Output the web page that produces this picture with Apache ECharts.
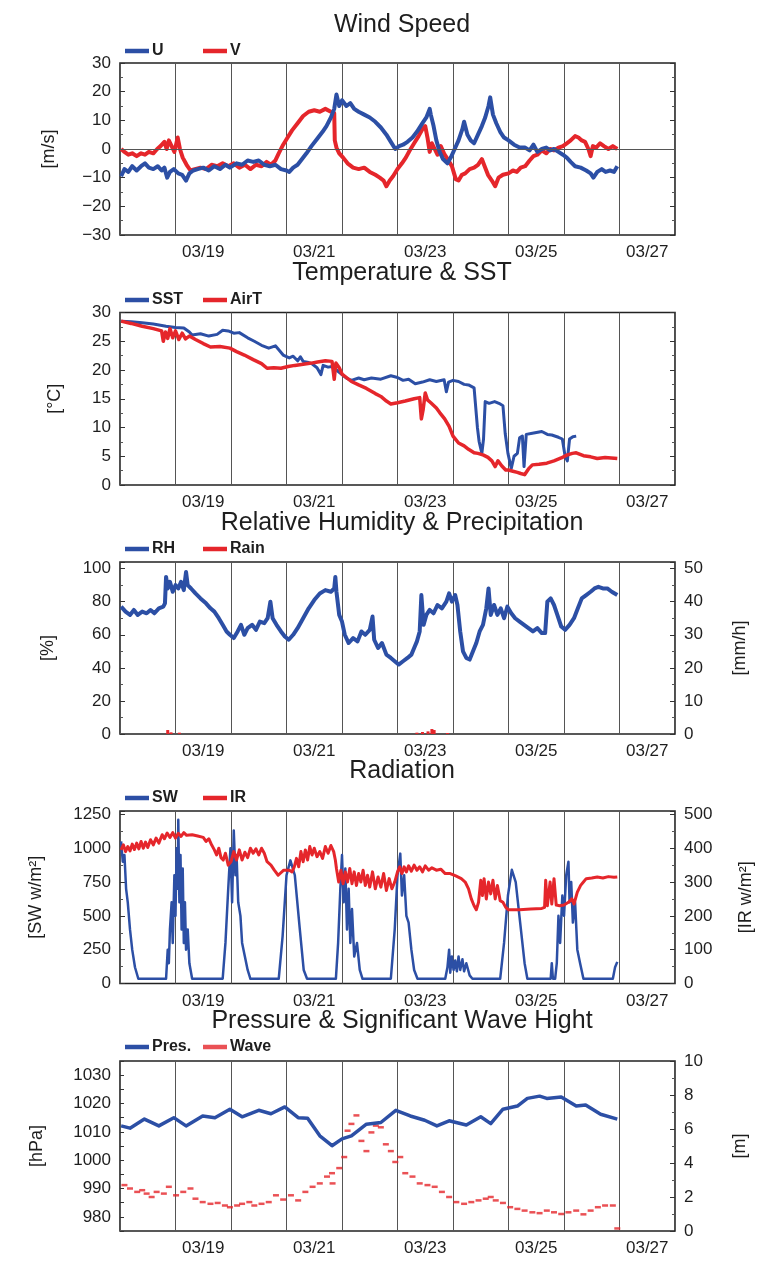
<!DOCTYPE html>
<html>
<head>
<meta charset="utf-8">
<script src="https://cdn.jsdelivr.net/npm/echarts@6/dist/echarts.min.js"></script>
<style>
  html, body { margin: 0; padding: 0; background: #fff; }
  #chart { width: 766px; height: 1261px; }
</style>
</head>
<body>
<div id="chart"></div>
<script>
// Time is expressed as day of March (UTC), e.g. 18.5 = 03/18 12:00.

// ---- Wind speed components [m/s]
const windU = [[18.02,-9.5],[18.08,-7],[18.15,-8],[18.22,-6],[18.3,-7.5],[18.38,-6],[18.45,-5],[18.52,-6.5],[18.6,-7],[18.68,-6],[18.75,-7.5],[18.8,-6.5],[18.85,-10],[18.9,-8],[18.97,-7],[19.05,-8.5],[19.12,-9],[19.19,-11],[19.25,-8.5],[19.32,-7.5],[19.4,-7],[19.5,-6.5],[19.6,-7.5],[19.7,-6],[19.8,-7],[19.9,-5.5],[19.98,-6.5],[20.1,-5],[20.2,-5.5],[20.3,-4],[20.4,-4.5],[20.5,-4],[20.6,-5.5],[20.7,-6],[20.8,-5.5],[20.9,-7],[21.0,-7.5],[21.05,-8],[21.12,-6.5],[21.2,-5.5],[21.28,-3.5],[21.36,-1.5],[21.45,1],[21.55,3.5],[21.65,6],[21.72,8],[21.8,11],[21.86,14],[21.9,19],[21.95,15],[22.0,17],[22.08,15],[22.15,16],[22.22,14],[22.3,13],[22.4,12],[22.5,11],[22.6,9.5],[22.7,7.5],[22.8,5],[22.88,2.5],[22.96,0],[23.03,1],[23.1,1.5],[23.18,2.5],[23.27,4],[23.35,6],[23.45,9],[23.52,11],[23.58,14],[23.6,12],[23.65,8],[23.7,3],[23.76,-1],[23.82,-3.5],[23.9,-5],[23.96,-3],[24.03,0],[24.1,3],[24.17,7],[24.2,9.5],[24.26,5],[24.32,3],[24.38,2],[24.45,5],[24.52,8],[24.58,11],[24.64,15],[24.67,18],[24.72,12],[24.78,9],[24.85,6],[24.92,4],[25.0,3],[25.1,1.5],[25.2,0.5],[25.3,0.5],[25.38,-0.5],[25.45,1.5],[25.52,-1],[25.6,0],[25.68,0.5],[25.75,-0.5],[25.82,0],[25.9,-1],[25.98,-2],[26.05,-3],[26.12,-4.5],[26.2,-6],[26.3,-6.5],[26.4,-7.5],[26.48,-8.5],[26.53,-10],[26.6,-8],[26.68,-7],[26.75,-8],[26.83,-7.5],[26.9,-8],[26.96,-6]];
const windV = [[18.02,0],[18.08,-1],[18.15,-2],[18.22,-1.5],[18.3,-2.5],[18.38,-1.5],[18.45,-2],[18.52,-1],[18.6,-1.5],[18.67,0],[18.73,1],[18.8,2.5],[18.84,0],[18.88,3],[18.93,1],[18.98,-1],[19.04,4],[19.08,0],[19.13,-3],[19.2,-5.5],[19.27,-7.5],[19.35,-7],[19.45,-6.5],[19.55,-7],[19.65,-5.5],[19.75,-6],[19.85,-5],[19.95,-6],[20.05,-5],[20.15,-6.5],[20.25,-5.5],[20.35,-7],[20.45,-5.5],[20.55,-6],[20.64,-4.5],[20.72,-5.5],[20.8,-4],[20.86,-1.5],[20.94,1.5],[21.02,4],[21.1,6.5],[21.2,9],[21.3,11.5],[21.4,13],[21.5,13.5],[21.6,13],[21.7,14],[21.8,13],[21.86,12.5],[21.87,3],[21.9,0.5],[21.95,-1.5],[22.02,-3],[22.1,-5],[22.2,-6.5],[22.3,-7],[22.4,-6.5],[22.5,-8],[22.6,-9],[22.68,-10],[22.75,-11],[22.8,-13],[22.86,-11],[22.92,-9.5],[23.0,-7],[23.08,-5],[23.15,-3],[23.22,-0.5],[23.3,2],[23.38,4.5],[23.45,7],[23.5,8],[23.54,4],[23.58,-1],[23.62,2],[23.67,0],[23.72,-2],[23.78,1],[23.85,-2],[23.92,-4],[23.98,-6],[24.05,-10.5],[24.1,-11],[24.16,-9],[24.22,-8.5],[24.3,-7],[24.38,-6.5],[24.45,-5.5],[24.52,-3.5],[24.57,-6],[24.63,-9],[24.7,-11],[24.76,-13],[24.82,-10],[24.9,-9],[25.0,-8.5],[25.08,-7.5],[25.15,-8],[25.22,-6.5],[25.3,-6],[25.38,-4],[25.45,-2.5],[25.52,-2],[25.6,-0.5],[25.68,-1.5],[25.75,0],[25.82,-0.5],[25.9,0.5],[25.98,1],[26.05,2],[26.12,3],[26.2,4.5],[26.26,4],[26.32,3],[26.38,2.5],[26.44,0],[26.48,-2.5],[26.52,1],[26.58,0.5],[26.65,2],[26.72,1],[26.8,0],[26.88,1],[26.96,0]];

// ---- Temperature [°C]
const sst = [[18.02,28.5],[18.2,28.4],[18.4,28.2],[18.6,28.0],[18.83,27.6],[19.0,27.4],[19.15,27.3],[19.25,26.6],[19.3,26.1],[19.45,26.3],[19.6,25.9],[19.75,26.2],[19.85,26.9],[19.95,26.8],[20.05,26.4],[20.15,26.5],[20.3,25.6],[20.42,25],[20.55,24.3],[20.68,23.8],[20.8,24.2],[20.88,23.3],[20.94,22.6],[21.05,22.1],[21.12,22.4],[21.2,21.6],[21.25,22.3],[21.3,21.5],[21.4,21.3],[21.47,21.0],[21.55,20.4],[21.62,19.2],[21.66,20.8],[21.75,20.5],[21.82,20.6],[21.9,20],[22.0,19.2],[22.08,18.6],[22.17,18.2],[22.3,18.6],[22.4,18.3],[22.53,18.6],[22.7,18.4],[22.88,19.0],[23.0,18.7],[23.1,18.2],[23.2,18.4],[23.32,17.6],[23.45,17.9],[23.58,18.3],[23.7,18.0],[23.84,18.3],[23.88,16.2],[23.92,17.9],[24.0,18.2],[24.1,18.0],[24.2,17.5],[24.28,17.4],[24.38,16.9],[24.41,16.8],[24.44,10],[24.47,7.6],[24.52,5.5],[24.55,8],[24.58,14.5],[24.65,14.2],[24.75,14.5],[24.85,14.1],[24.9,13.8],[24.94,9],[24.99,5.5],[25.05,2.9],[25.1,5],[25.16,5.5],[25.2,8.2],[25.25,8.5],[25.28,3.2],[25.32,8.8],[25.43,9.0],[25.6,9.3],[25.7,8.8],[25.78,8.7],[25.9,8.3],[25.97,8.0],[26.02,5],[26.06,4.2],[26.1,8.0],[26.16,8.4],[26.22,8.5]];
const airT = [[18.02,28.5],[18.2,28.1],[18.4,27.6],[18.6,27.2],[18.75,26.8],[18.78,25],[18.82,26.6],[18.86,25.5],[18.9,27.2],[18.95,25.6],[19.0,26.8],[19.06,25.3],[19.12,26.4],[19.18,25.4],[19.25,25.9],[19.36,25.3],[19.5,24.6],[19.63,24.0],[19.8,24.1],[19.98,23.8],[20.1,23.2],[20.24,22.6],[20.4,21.8],[20.55,21.1],[20.65,20.3],[20.77,20.4],[20.9,20.3],[21.03,20.6],[21.15,20.8],[21.3,21.0],[21.45,21.2],[21.56,21.4],[21.7,21.6],[21.82,21.5],[21.86,18.4],[21.89,21.2],[21.95,20.4],[22.0,19.3],[22.17,18.0],[22.3,17.4],[22.44,16.8],[22.6,15.9],[22.7,15.4],[22.8,14.6],[22.88,14.1],[23.0,14.3],[23.14,14.6],[23.3,15.0],[23.4,15.2],[23.43,11.5],[23.46,13],[23.5,16],[23.54,14.8],[23.6,14.3],[23.7,13.4],[23.76,12.6],[23.85,11.5],[23.93,10.2],[24.0,8.5],[24.1,7.3],[24.2,6.8],[24.28,6.2],[24.38,5.6],[24.45,5.5],[24.55,5.2],[24.63,4.8],[24.7,4.2],[24.76,3.2],[24.81,4.2],[24.88,3.3],[24.95,2.6],[25.0,2.6],[25.08,2.4],[25.16,2.2],[25.22,2.0],[25.29,1.8],[25.36,2.8],[25.43,3.5],[25.55,3.6],[25.69,3.8],[25.82,4.2],[25.95,4.7],[26.05,5.2],[26.15,5.5],[26.22,5.6],[26.35,5.1],[26.48,4.9],[26.6,4.6],[26.74,4.8],[26.85,4.7],[26.96,4.6]];

// ---- Relative humidity [%] and rain rate [mm/h]
const rh = [[18.02,77],[18.1,74],[18.18,72],[18.25,75],[18.32,72],[18.4,74],[18.48,73],[18.55,75],[18.62,73],[18.7,76],[18.78,77],[18.81,79],[18.83,95],[18.86,88],[18.9,92],[18.95,86],[19.0,90],[19.05,88],[19.1,92],[19.15,87],[19.19,98],[19.22,90],[19.28,88],[19.36,85],[19.45,82],[19.55,79],[19.63,76],[19.7,74],[19.78,70],[19.85,66],[19.92,62],[19.98,60],[20.05,58],[20.12,62],[20.18,66],[20.24,60],[20.3,64],[20.38,66],[20.45,63],[20.52,68],[20.6,67],[20.66,70],[20.71,80],[20.75,70],[20.82,66],[20.9,62],[20.97,59],[21.04,57],[21.12,60],[21.2,64],[21.3,70],[21.4,76],[21.5,81],[21.6,85],[21.7,87],[21.8,86],[21.86,88],[21.88,95],[21.9,86],[21.95,72],[22.0,68],[22.05,60],[22.12,55],[22.2,58],[22.28,56],[22.35,62],[22.42,60],[22.5,63],[22.55,71],[22.58,57],[22.65,52],[22.72,55],[22.8,48],[22.88,46],[22.95,44],[23.02,42],[23.1,44],[23.18,46],[23.25,48],[23.3,52],[23.35,56],[23.4,62],[23.43,84],[23.47,66],[23.52,72],[23.58,75],[23.65,73],[23.72,78],[23.8,76],[23.88,80],[23.93,85],[23.98,80],[24.04,84],[24.08,78],[24.13,62],[24.18,50],[24.24,46],[24.3,45],[24.36,50],[24.42,55],[24.48,62],[24.54,66],[24.6,76],[24.64,88],[24.68,72],[24.74,78],[24.8,72],[24.86,76],[24.92,70],[24.98,77],[25.05,73],[25.12,70],[25.2,68],[25.28,66],[25.36,64],[25.44,62],[25.52,64],[25.6,61],[25.66,61],[25.7,80],[25.76,82],[25.82,78],[25.88,72],[25.95,65],[26.02,63],[26.1,66],[26.18,70],[26.25,76],[26.32,82],[26.4,84],[26.48,86],[26.55,88],[26.62,89],[26.7,88],[26.78,88],[26.86,86],[26.96,84]];
const rain = [[18.86,1.2],[18.92,0.5],[19.07,0.4],[23.35,0.4],[23.45,0.6],[23.55,0.8],[23.62,1.5],[23.66,1.2],[23.9,0.3]];

// ---- Radiation: shortwave and infrared [W/m²]
const sw = [[18.02,1050],[18.05,900],[18.08,950],[18.11,700],[18.14,600],[18.18,400],[18.22,250],[18.27,120],[18.33,35],[18.83,35],[18.86,250],[18.88,150],[18.9,400],[18.93,600],[18.95,300],[18.98,800],[19.0,500],[19.02,1000],[19.04,700],[19.05,1210],[19.07,600],[19.09,950],[19.11,400],[19.13,850],[19.15,300],[19.17,600],[19.19,250],[19.22,400],[19.25,150],[19.3,35],[19.85,35],[19.9,300],[19.95,700],[19.99,1000],[20.02,600],[20.05,1130],[20.08,800],[20.1,950],[20.13,600],[20.17,500],[20.2,300],[20.25,200],[20.3,100],[20.35,35],[20.86,35],[20.93,350],[21.0,800],[21.07,910],[21.15,800],[21.24,400],[21.31,100],[21.37,35],[21.89,35],[21.93,300],[21.97,700],[22.0,950],[22.03,600],[22.06,850],[22.09,400],[22.12,700],[22.15,300],[22.18,550],[22.22,200],[22.27,300],[22.32,100],[22.37,35],[22.88,35],[22.95,400],[23.0,800],[23.05,960],[23.08,650],[23.12,800],[23.16,500],[23.2,450],[23.25,250],[23.3,100],[23.36,35],[23.86,35],[23.9,120],[23.93,250],[23.95,80],[23.98,200],[24.01,100],[24.04,170],[24.07,90],[24.1,200],[24.13,100],[24.17,180],[24.2,90],[24.24,150],[24.3,60],[24.35,35],[24.85,35],[24.92,300],[24.99,650],[25.06,840],[25.13,750],[25.21,450],[25.29,150],[25.34,35],[25.76,35],[25.78,150],[25.8,35],[25.84,35],[25.87,150],[25.9,500],[25.93,300],[25.97,650],[26.0,500],[26.04,800],[26.08,900],[26.1,600],[26.13,750],[26.16,450],[26.2,600],[26.24,250],[26.29,150],[26.35,35],[26.88,35],[26.92,120],[26.96,160]];
const ir = [[18.02,395],[18.06,410],[18.1,390],[18.14,405],[18.18,392],[18.22,412],[18.26,396],[18.3,415],[18.34,398],[18.38,420],[18.42,400],[18.46,418],[18.5,402],[18.55,425],[18.6,410],[18.65,430],[18.7,415],[18.76,440],[18.8,428],[18.85,445],[18.9,432],[18.95,446],[19.0,430],[19.05,444],[19.1,435],[19.15,446],[19.2,438],[19.3,440],[19.4,436],[19.5,432],[19.55,420],[19.6,428],[19.65,410],[19.7,395],[19.74,380],[19.78,400],[19.82,372],[19.86,365],[19.9,385],[19.95,350],[20.0,360],[20.05,390],[20.1,365],[20.15,395],[20.2,365],[20.25,388],[20.3,372],[20.35,400],[20.4,385],[20.45,398],[20.5,380],[20.55,400],[20.6,385],[20.65,360],[20.72,350],[20.78,335],[20.85,320],[20.95,335],[21.05,335],[21.1,330],[21.14,345],[21.18,370],[21.22,345],[21.26,390],[21.3,360],[21.34,395],[21.38,365],[21.42,405],[21.46,380],[21.5,400],[21.55,375],[21.6,390],[21.65,370],[21.7,405],[21.75,385],[21.8,408],[21.85,390],[21.88,365],[21.9,340],[21.94,300],[21.98,335],[22.02,295],[22.06,330],[22.1,300],[22.14,340],[22.18,295],[22.22,330],[22.26,290],[22.3,325],[22.34,300],[22.38,335],[22.42,290],[22.46,320],[22.5,285],[22.55,330],[22.6,280],[22.65,315],[22.7,285],[22.75,325],[22.8,275],[22.85,310],[22.9,280],[22.95,300],[23.0,330],[23.04,345],[23.08,325],[23.12,345],[23.16,330],[23.2,348],[23.25,332],[23.3,350],[23.35,335],[23.4,345],[23.45,330],[23.5,348],[23.56,335],[23.62,342],[23.7,335],[23.78,338],[23.86,325],[23.95,325],[24.05,318],[24.15,310],[24.22,300],[24.28,280],[24.33,250],[24.38,230],[24.42,218],[24.46,240],[24.5,305],[24.53,260],[24.56,310],[24.6,250],[24.64,300],[24.68,265],[24.72,305],[24.76,250],[24.8,290],[24.85,245],[24.9,240],[24.95,225],[25.0,218],[25.2,218],[25.4,220],[25.6,222],[25.65,225],[25.67,305],[25.7,230],[25.75,300],[25.78,235],[25.82,310],[25.86,232],[25.92,230],[26.0,232],[26.08,240],[26.14,250],[26.18,235],[26.24,270],[26.3,290],[26.35,300],[26.4,310],[26.5,312],[26.6,315],[26.7,312],[26.8,316],[26.9,314],[26.96,315]];

// ---- Sea-level pressure [hPa] and significant wave height [m]
const pres = [[18.02,1012.1],[18.18,1011.3],[18.44,1014.5],[18.7,1012.1],[18.97,1015],[19.19,1012.1],[19.49,1015.6],[19.71,1015],[19.98,1018],[20.2,1015.3],[20.5,1017.6],[20.72,1016.4],[20.97,1018.8],[21.21,1015],[21.38,1014.8],[21.6,1008.6],[21.82,1005.1],[22.0,1007.5],[22.17,1008.6],[22.44,1012.7],[22.7,1013.3],[22.97,1017.6],[23.23,1015.6],[23.49,1014.1],[23.71,1012.1],[23.93,1013.9],[24.24,1012.4],[24.5,1015.3],[24.68,1012.9],[24.9,1018],[25.16,1019.1],[25.34,1021.8],[25.56,1022.6],[25.69,1021.8],[25.95,1022.3],[26.22,1019.1],[26.39,1019.5],[26.66,1016.2],[26.96,1014.5]];
const wave = [[18.08,2.7],[18.18,2.5],[18.31,2.3],[18.4,2.4],[18.48,2.2],[18.57,2.0],[18.66,2.3],[18.79,2.2],[18.88,2.6],[19.01,2.1],[19.14,2.3],[19.27,2.5],[19.36,1.9],[19.49,1.7],[19.63,1.6],[19.76,1.65],[19.89,1.5],[19.98,1.4],[20.11,1.5],[20.2,1.6],[20.33,1.7],[20.42,1.5],[20.55,1.6],[20.68,1.7],[20.81,2.1],[20.94,1.85],[21.08,2.1],[21.21,1.8],[21.34,2.3],[21.47,2.6],[21.6,2.8],[21.73,3.2],[21.82,3.4],[21.83,2.8],[21.95,3.7],[22.04,4.35],[22.1,5.9],[22.17,6.3],[22.26,6.8],[22.35,5.3],[22.44,4.7],[22.53,5.8],[22.61,6.2],[22.7,6.1],[22.79,5.1],[22.88,4.7],[22.96,4.06],[23.05,4.35],[23.14,3.4],[23.27,3.2],[23.4,2.8],[23.54,2.7],[23.67,2.6],[23.8,2.3],[23.93,2.0],[24.06,1.7],[24.2,1.6],[24.33,1.7],[24.46,1.8],[24.59,1.9],[24.68,2.0],[24.77,1.8],[24.9,1.65],[25.03,1.4],[25.16,1.3],[25.29,1.2],[25.43,1.1],[25.56,1.05],[25.69,1.2],[25.82,1.1],[25.95,1.0],[26.08,1.1],[26.22,1.2],[26.35,0.98],[26.48,1.2],[26.61,1.4],[26.74,1.5],[26.88,1.5],[26.96,0.15]];

// ---- Axis tick labels (placed at noon of each labelled day)
const dayTicks = [19, 21, 23, 25, 27];
const dayLabels = ['03/19', '03/21', '03/23', '03/25', '03/27'];

const panelTitles = ['Wind Speed', 'Temperature & SST', 'Relative Humidity & Precipitation', 'Radiation', 'Pressure & Significant Wave Hight'];

const BLUE = '#2c4fa5';
const RED = '#e5262b';
const INK = '#1e1e1e';
const FONT = 'Liberation Sans';
const TICK_FONT = 17;

const grids = [
  { top: 63, height: 172 },
  { top: 312.5, height: 172.5 },
  { top: 562, height: 172 },
  { top: 811, height: 172.5 },
  { top: 1061, height: 170 }
].map(g => Object.assign({ left: 120, width: 555, show: true, borderColor: '#222', borderWidth: 1.6, backgroundColor: 'transparent' }, g));

const xAxes = [];
grids.forEach((g, i) => {
  // day boundaries: vertical grid lines
  xAxes.push({
    type: 'value', gridIndex: i, min: 18, max: 28, interval: 1,
    axisLine: { show: false }, axisTick: { show: false }, axisLabel: { show: false },
    splitLine: { show: true, lineStyle: { color: '#555', width: 1 } }
  });
  // date labels at the middle of each labelled day
  xAxes.push({
    type: 'value', gridIndex: i, min: 18, max: 28, interval: 0.5, position: 'bottom',
    axisLine: { show: false }, axisTick: { show: false }, splitLine: { show: false },
    axisLabel: {
      color: INK, fontFamily: FONT, fontSize: TICK_FONT, margin: 9,
      formatter: v => {
        const k = dayTicks.findIndex(d => Math.abs(d + 0.5 - v) < 1e-6);
        return k >= 0 ? dayLabels[k] : '';
      }
    }
  });
});

const numFmt = v => String(v).replace('-', '\u2212');

function yAxis(gi, opt, labelOpt) {
  const right = opt.position === 'right';
  const base = {
    type: 'value', gridIndex: gi,
    axisLine: { show: false },
    axisTick: { show: true, inside: true, length: 5, lineStyle: { color: '#333' } },
    minorTick: { show: true, splitNumber: 2, length: 3, lineStyle: { color: '#555' } },
    splitLine: { show: false },
    nameLocation: 'middle', nameRotate: 90,
    nameTextStyle: { color: INK, fontFamily: FONT, fontSize: 18 }
  };
  base.axisLabel = Object.assign({ color: INK, fontFamily: FONT, fontSize: TICK_FONT, margin: right ? 9 : 9, formatter: numFmt }, labelOpt || {});
  return Object.assign(base, opt);
}

const yAxes = [
  yAxis(0, { min: -30, max: 30, interval: 10, name: '[m/s]', nameGap: 62 }),
  yAxis(0, { min: -30, max: 30, interval: 10, position: 'right' }, { show: false }),
  yAxis(1, { min: 0, max: 30, interval: 5, name: '[°C]', nameGap: 56 }),
  yAxis(1, { min: 0, max: 30, interval: 5, position: 'right' }, { show: false }),
  yAxis(2, { min: 0, max: 104, interval: 20, name: '[%]', nameGap: 63 }, { showMaxLabel: false }),
  yAxis(2, { min: 0, max: 52, interval: 10, position: 'right', name: '[mm/h]', nameGap: 56 }, { showMaxLabel: false }),
  yAxis(3, { min: 0, max: 1275, interval: 250, name: '[SW w/m²]', nameGap: 75 }, { showMaxLabel: false }),
  yAxis(3, { min: 0, max: 510, interval: 100, position: 'right', name: '[IR w/m²]', nameGap: 62 }, { showMaxLabel: false }),
  yAxis(4, { min: 975, max: 1035, interval: 5, name: '[hPa]', nameGap: 74,
    axisTick: { show: true, inside: true, length: 4, lineStyle: { color: '#333' } }, minorTick: { show: false } },
    { formatter: v => (v % 10 === 0 ? String(v) : '') }),
  yAxis(4, { min: 0, max: 10, interval: 2, position: 'right', name: '[m]', nameGap: 56 })
];

function lineSeries(name, data, gi, yi, color, width) {
  return {
    name, type: 'line', data, xAxisIndex: gi * 2, yAxisIndex: yi,
    showSymbol: false, symbol: 'none', animation: false,
    lineStyle: { color, width, join: 'round' }, itemStyle: { color }
  };
}

const u = lineSeries('U', windU, 0, 0, BLUE, 4);
u.markLine = {
  silent: true, symbol: 'none', label: { show: false },
  lineStyle: { color: '#555', width: 1, type: 'solid' },
  data: [{ yAxis: 0 }]
};
u.z = 3;
const v = lineSeries('V', windV, 0, 0, RED, 4);
v.z = 2;

const series = [
  v, u,
  lineSeries('SST', sst, 1, 2, BLUE, 3),
  lineSeries('AirT', airT, 1, 2, RED, 3.5),
  lineSeries('RH', rh, 2, 4, BLUE, 4),
  {
    name: 'Rain', type: 'bar', data: rain, xAxisIndex: 4, yAxisIndex: 5,
    barWidth: 3, itemStyle: { color: RED }, animation: false
  },
  lineSeries('SW', sw, 3, 6, BLUE, 2.5),
  lineSeries('IR', ir, 3, 7, RED, 3),
  lineSeries('Pres.', pres, 4, 8, BLUE, 3.5),
  {
    name: 'Wave', type: 'scatter', data: wave, xAxisIndex: 8, yAxisIndex: 9,
    symbol: 'rect', symbolSize: [6, 2.5], itemStyle: { color: RED }, animation: false
  }
];

const legendTops = [38, 287, 536, 785, 1034];
const legendPairs = [['U', 'V'], ['SST', 'AirT'], ['RH', 'Rain'], ['SW', 'IR'], ['Pres.', 'Wave']];
const legendColors = { U: BLUE, V: RED, SST: BLUE, AirT: RED, RH: BLUE, Rain: RED, SW: BLUE, IR: RED, 'Pres.': BLUE, Wave: RED };
const legends = [];
legendPairs.forEach((pair, i) => {
  pair.forEach((name, j) => {
    legends.push({
      left: j === 0 ? 120 : 198, top: legendTops[i], data: [{ name, icon: 'rect', itemStyle: { color: legendColors[name] } }],
      itemWidth: 24, itemHeight: 4.5, selectedMode: false,
      textStyle: { color: INK, fontFamily: FONT, fontSize: 16, fontWeight: 'bold', padding: [0, 0, 0, -2] }
    });
  });
});

const titleTops = [8, 256, 506, 754, 1004];
const titles = panelTitles.map((t, i) => ({
  text: t, left: 397, top: titleTops[i], textAlign: 'center',
  textStyle: { color: INK, fontFamily: FONT, fontSize: 25, fontWeight: 'normal' }
}));

const chart = echarts.init(document.getElementById('chart'), null, { renderer: 'canvas' });
chart.setOption({
  backgroundColor: '#fff',
  animation: false,
  title: titles,
  legend: legends,
  grid: grids,
  xAxis: xAxes,
  yAxis: yAxes,
  series
});
</script>
</body>
</html>
